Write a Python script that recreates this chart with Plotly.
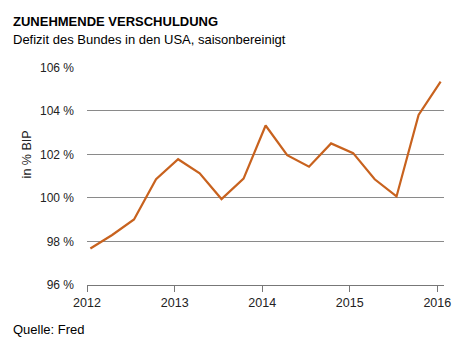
import plotly.graph_objects as go

dates = ["2012-01-15", "2012-04-15", "2012-07-15", "2012-10-15",
         "2013-01-15", "2013-04-15", "2013-07-15", "2013-10-15",
         "2014-01-15", "2014-04-15", "2014-07-15", "2014-10-15",
         "2015-01-15", "2015-04-15", "2015-07-15", "2015-10-15",
         "2016-01-15"]
values = [97.68, 98.3, 99.01, 100.86,
          101.78, 101.13, 99.95, 100.89,
          103.33, 101.97, 101.44, 102.51,
          102.06, 100.86, 100.07, 103.82,
          105.35]
y_ticks = [96, 98, 100, 102, 104, 106]
y_labels = ["96 %", "98 %", "100 %", "102 %", "104 %", "106 %"]
x_ticks = ["2012-01-01", "2013-01-01", "2014-01-01", "2015-01-01", "2016-01-01"]
x_labels = ["2012", "2013", "2014", "2015", "2016"]

font = "Liberation Sans, Arial, sans-serif"

fig = go.Figure()
fig.add_trace(go.Scatter(x=dates, y=values, mode="lines",
                         line=dict(color="#C8621E", width=2.2),
                         hoverinfo="skip"))

left_x = -(87 - 11) / 359

fig.update_layout(
    width=463, height=351,
    margin=dict(l=87, r=17, t=67, b=66),
    paper_bgcolor="white", plot_bgcolor="white",
    showlegend=False,
    font=dict(family=font, size=12, color="#222222"),
    xaxis=dict(
        type="date",
        range=["2012-01-01", "2016-01-29"],
        tickvals=x_ticks, ticktext=x_labels,
        showgrid=False, zeroline=False,
        showline=True, linecolor="#777777", linewidth=1,
        ticks="outside", ticklen=6, tickcolor="#777777", tickwidth=1,
        tickfont=dict(size=12.5, color="#222222"),
        fixedrange=True,
    ),
    yaxis=dict(
        range=[96, 106.02],
        tickvals=y_ticks, ticktext=y_labels,
        showgrid=True, gridcolor="#8a8a8a", gridwidth=1,
        zeroline=False, showline=False,
        ticks="", ticklabelstandoff=12,
        tickfont=dict(size=12, color="#222222"),
        fixedrange=True,
    ),
    annotations=[
        dict(text="<b>ZUNEHMENDE VERSCHULDUNG</b>", xref="paper", yref="paper",
             x=left_x, y=1 + 36/218, xanchor="left", yanchor="bottom",
             showarrow=False, font=dict(size=13, color="#000000")),
        dict(text="Defizit des Bundes in den USA, saisonbereinigt", xref="paper", yref="paper",
             x=left_x, y=1 + 18/218, xanchor="left", yanchor="bottom",
             showarrow=False, font=dict(size=13, color="#000000")),
        dict(text="Quelle: Fred", xref="paper", yref="paper",
             x=left_x, y=-(320 - 285) / 218, xanchor="left", yanchor="top",
             showarrow=False, font=dict(size=13, color="#000000")),
        dict(text="in % BIP", xref="paper", yref="paper",
             x=-(87 - 18) / 359, y=(285 - 154) / 218, xanchor="left", yanchor="middle",
             textangle=-90, showarrow=False, font=dict(size=12.5, color="#222222")),
    ],
)

fig.write_html("out.html")
